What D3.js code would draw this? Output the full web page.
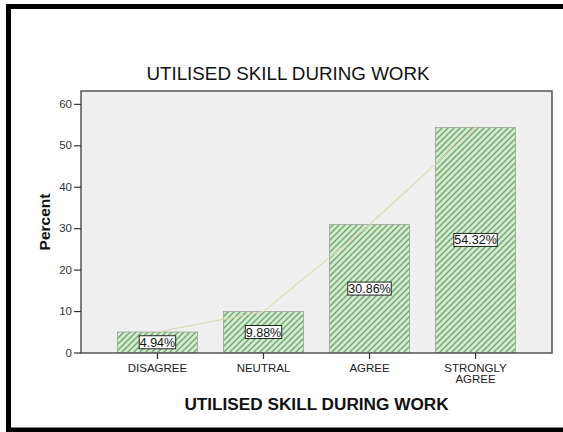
<!DOCTYPE html>
<html>
<head>
<meta charset="utf-8">
<script src="https://cdn.jsdelivr.net/npm/d3@7"></script>
<style>
  html, body { margin: 0; padding: 0; background: #fff; }
  svg { display: block; font-family: Arial, "Liberation Sans", sans-serif; }
</style>
</head>
<body>
<svg id="chart" width="563" height="432"></svg>
<script>
// Survey responses: share of respondents per answer
const categories = ["DISAGREE", "NEUTRAL", "AGREE", "STRONGLY AGREE"];
const percents = [4.94, 9.88, 30.86, 54.32];
const valueLabels = ["4.94%", "9.88%", "30.86%", "54.32%"];
const yTicks = [0, 10, 20, 30, 40, 50, 60];

const chartTitle = "UTILISED SKILL DURING WORK";
const xTitle = "UTILISED SKILL DURING WORK";
const yTitle = "Percent";

const svg = d3.select("#chart");

// outer frame
svg.append("rect")
  .attr("x", 8.5).attr("y", 6.5)
  .attr("width", 600).attr("height", 423.5)
  .attr("fill", "#fff")
  .attr("stroke", "#000").attr("stroke-width", 5);

const plot = { left: 81, right: 552, top: 91, bottom: 353 };

const x = d3.scaleBand()
  .domain(categories)
  .range([plot.left, plot.right])
  .paddingInner(0.244)
  .paddingOuter(0.343);

const y = d3.scaleLinear()
  .domain([0, 63.1])
  .range([352.5, plot.top]);

// hatch pattern for bars
const defs = svg.append("defs");
const pat = defs.append("pattern")
  .attr("id", "hatch")
  .attr("patternUnits", "userSpaceOnUse")
  .attr("width", 6).attr("height", 6);
pat.append("rect").attr("width", 6).attr("height", 6).attr("fill", "#ccf2c9");
pat.append("path")
  .attr("d", "M-1,1 l2,-2 M0,6 l6,-6 M5,7 l2,-2")
  .attr("stroke", "#849e81").attr("stroke-width", 1.5);

// plot background
svg.append("rect")
  .attr("x", plot.left).attr("y", plot.top)
  .attr("width", plot.right - plot.left).attr("height", plot.bottom - plot.top)
  .attr("fill", "#efefef");

// bars
svg.append("g").selectAll("rect")
  .data(percents)
  .join("rect")
  .attr("x", (d, i) => x(categories[i]))
  .attr("y", d => y(d))
  .attr("width", x.bandwidth())
  .attr("height", d => y(0) - y(d))
  .attr("fill", "url(#hatch)")
  .attr("stroke", "#9aa598").attr("stroke-width", 0.8);

// connecting line through bar tops
const line = d3.line()
  .x((d, i) => x(categories[i]) + x.bandwidth() / 2)
  .y(d => y(d));
svg.append("path")
  .datum(percents)
  .attr("d", line)
  .attr("fill", "none")
  .attr("stroke", "#ddd8ae").attr("stroke-width", 1.1);

// plot border
svg.append("rect")
  .attr("x", plot.left).attr("y", plot.top)
  .attr("width", plot.right - plot.left).attr("height", plot.bottom - plot.top)
  .attr("fill", "none")
  .attr("stroke", "#555").attr("stroke-width", 1.5);

// value labels in boxes
const lab = svg.append("g").selectAll("g")
  .data(percents)
  .join("g")
  .attr("transform", (d, i) =>
    `translate(${x(categories[i]) + x.bandwidth() / 2},${(y(d) + y(0)) / 2})`);
lab.append("text")
  .attr("text-anchor", "middle")
  .attr("dy", "0.36em")
  .attr("font-size", 12.5)
  .attr("fill", "#111")
  .text((d, i) => valueLabels[i])
  .each(function () {
    const b = this.getBBox();
    d3.select(this.parentNode).insert("rect", "text")
      .attr("x", b.x - 0.5).attr("y", -6.5)
      .attr("width", b.width + 1).attr("height", 13)
      .attr("fill", "#fff")
      .attr("stroke", "#222").attr("stroke-width", 1);
  });

// y axis
const yAxis = svg.append("g")
  .attr("transform", `translate(${plot.left},0)`)
  .call(d3.axisLeft(y).tickValues(yTicks).tickSize(7).tickPadding(2));
yAxis.select(".domain").remove();
yAxis.selectAll("line").attr("stroke", "#333").attr("stroke-width", 1.2);
yAxis.selectAll("text").attr("font-size", 11.5).attr("fill", "#333")
  .attr("font-family", "Arial, 'Liberation Sans', sans-serif");

// x axis
const xAxis = svg.append("g")
  .attr("transform", `translate(0,${plot.bottom})`)
  .call(d3.axisBottom(x).tickSize(6).tickSizeOuter(0).tickFormat(""));
xAxis.select(".domain").remove();
xAxis.selectAll("line").attr("stroke", "#333").attr("stroke-width", 1.2);

const xl = svg.append("g").selectAll("text")
  .data(categories)
  .join("text")
  .attr("x", d => x(d) + x.bandwidth() / 2)
  .attr("y", 372)
  .attr("text-anchor", "middle")
  .attr("font-size", 11.5)
  .attr("fill", "#222");
xl.each(function (d) {
  const words = d.split(" ");
  const t = d3.select(this);
  words.forEach((w, k) => {
    t.append("tspan")
      .attr("x", x(d) + x.bandwidth() / 2)
      .attr("dy", k === 0 ? 0 : 11)
      .text(w);
  });
});

// titles
svg.append("text")
  .attr("x", 288).attr("y", 80)
  .attr("text-anchor", "middle")
  .attr("font-size", 18.8)
  .attr("fill", "#111")
  .text(chartTitle);

svg.append("text")
  .attr("x", (plot.left + plot.right) / 2).attr("y", 410)
  .attr("text-anchor", "middle")
  .attr("font-size", 17.2)
  .attr("font-weight", "bold")
  .attr("fill", "#111")
  .text(xTitle);

svg.append("text")
  .attr("transform", `translate(50,222) rotate(-90)`)
  .attr("text-anchor", "middle")
  .attr("font-size", 15.5)
  .attr("font-weight", "bold")
  .attr("fill", "#111")
  .text(yTitle);
</script>
</body>
</html>
